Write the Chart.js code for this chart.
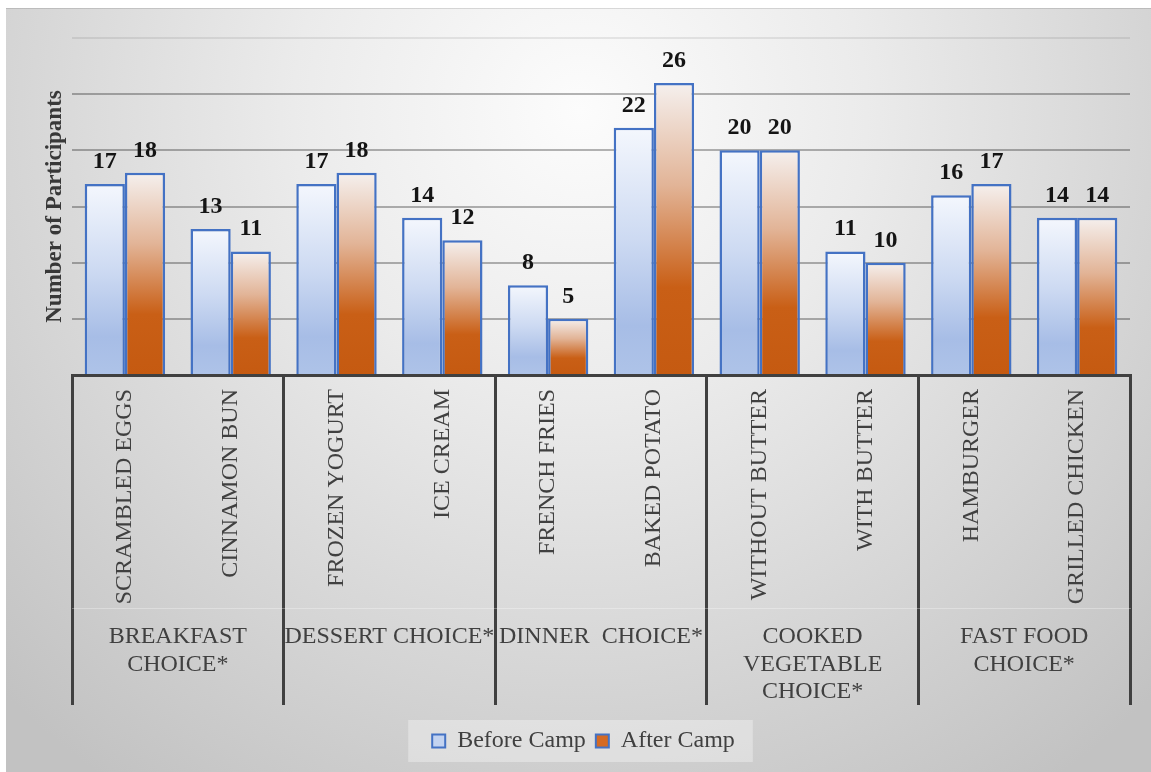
<!DOCTYPE html>
<html>
<head>
<meta charset="utf-8">
<title>Food choices before and after camp</title>
<script src="https://cdn.jsdelivr.net/npm/chart.js@4"></script>
<style>
html, body { margin: 0; padding: 0; background: #fff; }
</style>
</head>
<body>
<canvas id="myChart" width="1151" height="772"></canvas>
<script>
// chart data
const items = ['SCRAMBLED EGGS', 'CINNAMON BUN', 'FROZEN YOGURT', 'ICE CREAM', 'FRENCH FRIES',
    'BAKED POTATO', 'WITHOUT BUTTER', 'WITH BUTTER', 'HAMBURGER', 'GRILLED CHICKEN'];
const groups = [['BREAKFAST', 'CHOICE*'], ['DESSERT CHOICE*'], ['DINNER  CHOICE*'],
    ['COOKED', 'VEGETABLE', 'CHOICE*'], ['FAST FOOD', 'CHOICE*']];
const seriesNames = ['Before Camp', 'After Camp'];
const beforeCamp = [17, 13, 17, 14, 8, 22, 20, 11, 16, 14];
const afterCamp = [18, 11, 18, 12, 5, 26, 20, 10, 17, 14];
const yMin = 0, yMax = 30, yStep = 5;

const serif = "'Times New Roman', 'Liberation Serif', serif";
const textGray = '#404040';
const barBorder = '#4472C4';

// gradient stops per series (top of bar -> bottom)
const beforeStops = [[0, '#f4f7fd'], [0.45, '#cddaf2'], [0.8, '#a7bde6'], [1, '#aec3e8']];
const afterStops = [[0, '#f5f0ee'], [0.35, '#e2b497'], [0.7, '#c95f16'], [1, '#c55a11']];
const markerFill = ['#c3d3f0', '#d46a24'];

function barGradient(c, stops)
{
    const chart = c.chart;
    if (!chart.chartArea || c.type !== 'data')
    {
        return stops[stops.length - 1][1];
    }
    const y = chart.scales.y;
    const top = y.getPixelForValue(c.raw);
    const bottom = y.getPixelForValue(0);
    const g = chart.ctx.createLinearGradient(0, top, 0, bottom);
    stops.forEach(s => g.addColorStop(s[0], s[1]));
    return g;
}

// grey radial background + legend backdrop
const backdrop = {
    id: 'backdrop',
    beforeDraw(chart) {
        const ctx = chart.ctx;
        const w = chart.width, h = chart.height;
        ctx.save();
        ctx.fillStyle = '#ffffff';
        ctx.fillRect(0, 0, w, h);
        const g = ctx.createRadialGradient(580, 110, 0, 580, 110, 820);
        g.addColorStop(0, '#fcfcfc');
        g.addColorStop(0.35, '#ebebeb');
        g.addColorStop(1, '#c2c2c2');
        ctx.fillStyle = g;
        ctx.fillRect(6, 8, w - 6, h - 8);
        ctx.fillStyle = 'rgba(0,0,0,0.12)';
        ctx.fillRect(6, 8, w - 6, 1);

        const boxes = chart.legend && chart.legend.legendHitBoxes;
        if (boxes && boxes.length)
        {
            const first = boxes[0], last = boxes[boxes.length - 1];
            const x0 = first.left - 24;
            const x1 = last.left + last.width + 18;
            const y0 = first.top - 9;
            const y1 = first.top + first.height + 9;
            ctx.fillStyle = 'rgba(255,255,255,0.33)';
            ctx.fillRect(x0, y0, x1 - x0, y1 - y0);
        }
        ctx.restore();
    }
};

// numbers above the bars
const valueLabels = {
    id: 'valueLabels',
    afterDatasetsDraw(chart) {
        const ctx = chart.ctx;
        ctx.save();
        ctx.font = 'bold 24px ' + serif;
        ctx.fillStyle = '#141414';
        ctx.textAlign = 'center';
        ctx.textBaseline = 'alphabetic';
        chart.data.datasets.forEach((ds, i) => {
            chart.getDatasetMeta(i).data.forEach((bar, j) => {
                ctx.fillText(String(ds.data[j]), bar.x, bar.y - 16);
            });
        });
        ctx.restore();
    }
};

const ctx = document.getElementById('myChart');

new Chart(ctx, {
    type: 'bar',
    data: {
        labels: items,
        datasets: [
            {
                label: seriesNames[0],
                data: beforeCamp,
                backgroundColor: c => barGradient(c, beforeStops),
                borderColor: barBorder,
                borderWidth: 2.5,
                categoryPercentage: 0.76,
                barPercentage: 1
            },
            {
                label: seriesNames[1],
                data: afterCamp,
                backgroundColor: c => barGradient(c, afterStops),
                borderColor: barBorder,
                borderWidth: 2.5,
                categoryPercentage: 0.76,
                barPercentage: 1
            }
        ]
    },
    options: {
        responsive: false,
        animation: false,
        layout: { padding: { left: 37, right: 21, top: 38, bottom: 9 } },
        plugins: {
            tooltip: { enabled: false },
            legend: {
                position: 'bottom',
                labels: {
                    boxWidth: 13,
                    boxHeight: 13,
                    padding: 10,
                    color: textGray,
                    font: { family: serif, size: 24 },
                    generateLabels: chart => chart.data.datasets.map((ds, i) => ({
                        text: ds.label,
                        fillStyle: markerFill[i],
                        strokeStyle: barBorder,
                        lineWidth: 2,
                        fontColor: textGray,
                        hidden: false,
                        datasetIndex: i
                    }))
                }
            }
        },
        scales: {
            x: {
                type: 'category',
                position: 'bottom',
                offset: true,
                weight: 0,
                border: { display: true, color: textGray, width: 3 },
                grid: {
                    offset: true,
                    drawOnChartArea: false,
                    drawTicks: true,
                    tickLength: 330,
                    lineWidth: 3,
                    color: c => (c.index === undefined || c.index % 2 === 0) ? textGray : 'rgba(0,0,0,0)',
                    tickColor: c => (c.index === undefined || c.index % 2 === 0) ? textGray : 'rgba(0,0,0,0)'
                },
                ticks: {
                    autoSkip: false,
                    minRotation: 90,
                    maxRotation: 90,
                    padding: -316,
                    color: textGray,
                    font: { family: serif, size: 24 }
                },
                afterFit: s => { s.height = 233; }
            },
            x2: {
                type: 'category',
                labels: groups,
                position: 'bottom',
                offset: true,
                weight: 1,
                border: { display: true, color: 'rgba(255,255,255,0.3)', width: 1 },
                grid: { display: false, drawTicks: false },
                ticks: {
                    autoSkip: false,
                    maxRotation: 0,
                    minRotation: 0,
                    padding: 15,
                    color: textGray,
                    font: { family: serif, size: 24, lineHeight: 1.15 }
                },
                afterFit: s => { s.height = 111; }
            },
            y: {
                min: yMin,
                max: yMax,
                border: { display: false },
                ticks: { stepSize: yStep, display: false },
                grid: {
                    drawTicks: false,
                    lineWidth: 2,
                    color: c => {
                        if (!c.tick || c.tick.value === yMin) return 'rgba(0,0,0,0)';
                        if (c.tick.value === yMax) return 'rgba(0,0,0,0.08)';
                        return 'rgba(0,0,0,0.29)';
                    }
                },
                title: {
                    display: true,
                    text: 'Number of Participants',
                    color: '#383838',
                    font: { family: serif, size: 23, weight: 'bold' },
                    padding: { top: 4, bottom: 4 }
                },
                afterFit: s => { s.width = 35; }
            }
        }
    },
    plugins: [backdrop, valueLabels]
});
</script>
</body>
</html>
